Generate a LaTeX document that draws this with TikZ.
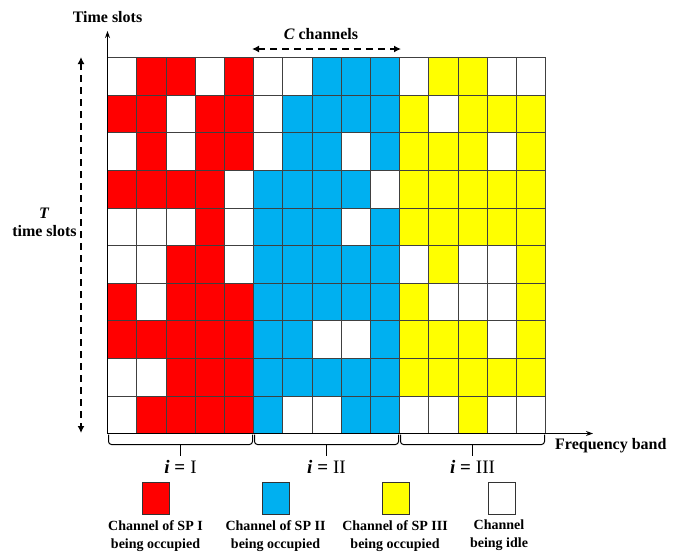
\documentclass[tikz,border=0pt]{standalone}
\usepackage{fontspec}
\setmainfont{Liberation Serif}
\usetikzlibrary{arrows.meta}
\definecolor{cR}{HTML}{FF0000}
\definecolor{cB}{HTML}{00B0F0}
\definecolor{cY}{HTML}{FFFF00}
\definecolor{cW}{HTML}{FFFFFF}
\tikzset{
  cell/.style={draw=black!75, line width=0.8pt},
  lbl/.style={inner sep=0pt, font=\fontsize{16}{19}\selectfont\bfseries},
  leg/.style={inner sep=0pt, align=center, font=\fontsize{14}{18}\selectfont\bfseries},
  legbox/.style={draw=black!80, line width=1pt, minimum width=27pt, minimum height=32pt, inner sep=0pt},
  axis/.style={line width=1.5pt, -{Stealth[length=7pt,width=5pt]}},
  dasharrow/.style={line width=1.8pt, dash pattern=on 7pt off 5pt, {Latex[length=7pt,width=7pt]}-{Latex[length=7pt,width=7pt]}},
  brace/.style={line width=1pt, rounded corners=3pt},
  ilbl/.style={inner sep=0pt, font=\fontsize{19}{21}\selectfont}
}
\begin{document}
\begin{tikzpicture}[x=1pt,y=-1pt]
\useasboundingbox[fill=white] (0,0) rectangle (680,554);
\def\xo{107.5}\def\yo{57.5}\def\cw{29.2}\def\rh{37.6}
% grid cells
\foreach \row [count=\r] in {
 {W,R,R,W,R,W,W,B,B,B,W,Y,Y,W,W},
 {R,R,W,R,R,W,B,B,B,B,Y,W,Y,Y,Y},
 {W,R,W,R,R,W,B,B,W,B,Y,Y,Y,W,Y},
 {R,R,R,R,W,B,B,B,B,W,Y,Y,Y,Y,Y},
 {W,W,W,R,W,B,B,B,W,B,Y,Y,Y,Y,Y},
 {W,W,R,R,W,B,B,B,B,B,W,Y,W,W,Y},
 {R,W,R,R,R,B,B,B,B,B,Y,W,W,W,Y},
 {R,R,R,R,R,B,B,W,W,B,Y,Y,Y,W,Y},
 {W,W,R,R,R,B,B,B,B,B,Y,Y,Y,Y,Y},
 {W,R,R,R,R,B,W,W,B,B,W,W,Y,W,W}}{
  \foreach \c [count=\k] in \row {
    \filldraw[cell, fill=c\c] ({\xo+(\k-1)*\cw},{\yo+(\r-1)*\rh}) rectangle ++(\cw,\rh);
  }
}
% axes
\coordinate (O) at (\xo,433.5);
\coordinate (ytip) at (\xo,31);
\coordinate (xtip) at (593,433.5);
\draw[axis] (O) -- (ytip);
\draw[axis] (O) -- (xtip);
\node[lbl] (yl) at (107.5,17) {Time slots};
\node[lbl, anchor=west] (xl) at (555,445.5) {Frequency band};
% C channels
\coordinate (ca) at (252,49);
\coordinate (cb) at (401,49);
\draw[dasharrow] (ca) -- (cb);
\node[lbl] (cl) at (321,34) {\itshape C\upshape\ channels};
% T time slots
\coordinate (ta) at (81,57);
\coordinate (tb) at (81,433);
\draw[dasharrow] (ta) -- (tb);
\node[lbl] (tl) at (44,213) {\itshape T};
\node[lbl] (tl2) at (44.5,231) {time slots};
% braces
\foreach \g/\name/\txt in {0/g1/{I},1/g2/{II},2/g3/{III}}{
  \pgfmathsetmacro{\xl}{\xo+\g*5*\cw+1}
  \pgfmathsetmacro{\xr}{\xo+(\g+1)*5*\cw-1}
  \pgfmathsetmacro{\xm}{\xo+(\g+0.5)*5*\cw}
  \draw[brace] (\xl,434.5) -- (\xl,444.5) -- (\xr,444.5) -- (\xr,434.5);
  \coordinate (\name t) at (\xm,444.5);
  \coordinate (\name b) at (\xm,456);
  \draw[line width=1pt] (\name t) -- (\name b);
  \node[ilbl] (\name l) at (\xm,467) {\textbf{\textit{i}} \textbf{=}\hspace{5pt}\txt};
}
% legend
\node[legbox, fill=cR] (lr) at (155.5,498) {};
\node[legbox, fill=cB] (lb) at (276,498) {};
\node[legbox, fill=cY] (ly) at (396,498) {};
\node[legbox, fill=cW] (lw) at (502,498) {};
\node[leg, anchor=north] (tr) at (155.5,520) {Channel of SP I\\being occupied};
\node[leg, anchor=north] (tb2) at (275.5,520) {Channel of SP II\\being occupied};
\node[leg, anchor=north] (ty) at (395,520) {Channel of SP III\\being occupied};
\node[leg, anchor=north] (tw) at (499,520) {Channel\\being idle};
\end{tikzpicture}
\end{document}
